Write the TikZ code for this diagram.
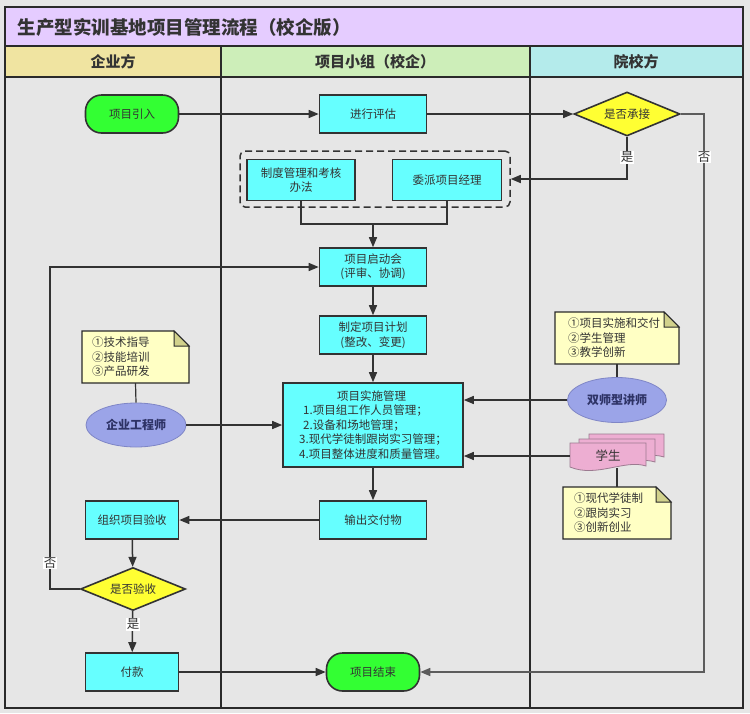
\documentclass[tikz,border=0pt]{standalone}
\usepackage{fontspec}
\setmainfont{Noto Sans CJK SC}
\usetikzlibrary{arrows.meta,shapes.geometric}
\definecolor{bgc}{HTML}{E6E6E6}
\definecolor{framec}{HTML}{2A2A2A}
\definecolor{titlec}{HTML}{E5CCFF}
\definecolor{hA}{HTML}{F0E4A1}
\definecolor{hB}{HTML}{CDEEB9}
\definecolor{hC}{HTML}{B4EBEB}
\definecolor{cyanc}{HTML}{66FFFF}
\definecolor{greenc}{HTML}{33FF33}
\definecolor{yellowc}{HTML}{FFFF33}
\definecolor{notec}{HTML}{FFFFC4}
\definecolor{foldc}{HTML}{D2D28C}
\definecolor{ellc}{HTML}{9BA4E8}
\definecolor{elldraw}{HTML}{7F86C6}
\definecolor{pinkc}{HTML}{EDAED2}
\definecolor{pinkd}{HTML}{9C7A90}
\definecolor{linec}{HTML}{333333}
\definecolor{txtc}{HTML}{333333}
\definecolor{actortxt}{HTML}{2E3366}
\newcommand\docsheet[4]{%
  \filldraw[docst] (#1,#2) -- (#3,#2) -- (#3,{#4-6}) .. controls ({#1+0.72*(#3-#1)},{#4-13}) and ({#1+0.35*(#3-#1)},{#4+6}) .. (#1,{#4-5}) -- cycle;}
\newcommand\mynote[5]{%
  \filldraw[notest] (#1,#2) -- ({#3-15},#2) -- (#3,{#2+15}) -- (#3,#4) -- (#1,#4) -- cycle;
  \filldraw[foldst] ({#3-15},#2) -- ({#3-15},{#2+15}) -- (#3,{#2+15}) -- cycle;
  \coordinate (#5-t) at ({(#1+#3)/2},#2);
  \coordinate (#5-b) at ({(#1+#3)/2},#4);}
\begin{document}
\begin{tikzpicture}[x=1pt,y=-1pt,
  every node/.style={text=txtc,font=\fontsize{11.5}{14.5}\selectfont},
  proc/.style={rectangle,draw=linec,line width=1.6pt,fill=cyanc,minimum width=107pt,minimum height=38pt,inner sep=2pt,align=center},
  term/.style={rectangle,rounded corners=16pt,draw=linec,line width=1.6pt,fill=greenc,minimum width=93pt,minimum height=38pt},
  decision/.style={diamond,draw=linec,line width=1.6pt,fill=yellowc,minimum width=106pt,minimum height=44pt,inner sep=0pt,aspect=2.4},
  actor/.style={ellipse,draw=elldraw,line width=0.8pt,fill=ellc,minimum width=100pt,minimum height=44pt,inner sep=0pt,font=\fontsize{12}{14}\selectfont\bfseries,text=actortxt},
  notest/.style={draw=framec,line width=1.3pt,fill=notec},
  foldst/.style={draw=framec,line width=1.0pt,fill=foldc},
  docst/.style={draw=pinkd,line width=0.8pt,fill=pinkc},
  arr/.style={draw=linec,line width=1.5pt,-{Triangle[length=10pt,width=8pt]}},
  conn/.style={draw=linec,line width=1.5pt},
  lbl/.style={fill=white,inner sep=1pt,font=\fontsize{12.5}{14}\selectfont},
  frameline/.style={draw=framec,line width=2.5pt},
  ntext/.style={align=left,anchor=north west,inner sep=0pt,font=\fontsize{11.5}{14.5}\selectfont}]
\useasboundingbox (0,0) rectangle (750,713);
\fill[bgc] (0,0) rectangle (750,713);
% title and headers
\fill[titlec] (5,7) rectangle (743,46);
\fill[hA] (5,46) rectangle (221,77);
\fill[hB] (221,46) rectangle (530,77);
\fill[hC] (530,46) rectangle (743,77);
\draw[frameline] (5,46) -- (743,46);
\draw[frameline] (5,77) -- (743,77);
\draw[frameline] (221,46) -- (221,708);
\draw[frameline] (530,46) -- (530,708);
\draw[frameline] (5,7) rectangle (743,708);
\node[anchor=west,font=\fontsize{18.5}{20}\selectfont\bfseries] (title) at (14,27) {生产型实训基地项目管理流程（校企版）};
\node[font=\fontsize{15}{17}\selectfont\bfseries] (hdA) at (113,62) {企业方};
\node[font=\fontsize{15}{17}\selectfont\bfseries] (hdB) at (375,62) {项目小组（校企）};
\node[font=\fontsize{15}{17}\selectfont\bfseries] (hdC) at (636,62) {院校方};
% group box
\node[draw=linec,dash pattern=on 7pt off 4pt,line width=1.5pt,rounded corners=5pt,minimum width=270pt,minimum height=56pt] (grp) at (375,179) {};
% nodes
\node[term] (start) at (132,114) {项目引入};
\node[proc] (eval) at (373,114) {进行评估};
\node[decision] (sc) at (627,114) {是否承接};
\node[proc,minimum width=108pt,minimum height=41pt] (zd) at (301,180) {制度管理和考核\\办法};
\node[proc,minimum width=109pt,minimum height=41pt] (wp) at (447,180) {委派项目经理};
\coordinate (m) at (373,224);
\node[proc] (qd) at (373,267) {项目启动会\\(评审、协调)};
\node[proc] (plan) at (373,335) {制定项目计划\\(整改、变更)};
\node[proc,minimum width=180pt,minimum height=84pt,align=left] (impl) at (373,425) {\hspace*{38pt}项目实施管理\\\hspace*{4pt}1.项目组工作人员管理；\\\hspace*{4pt}2.设备和场地管理；\\3.现代学徒制跟岗实习管理；\\4.项目整体进度和质量管理。};
\node[proc] (out) at (373,520) {输出交付物};
\node[proc,minimum width=93pt] (org) at (132,520) {组织项目验收};
\node[decision,minimum width=105pt,minimum height=43pt] (sy) at (133,589) {是否验收};
\node[proc,minimum width=93pt] (pay) at (132,672) {付款};
\node[term] (end) at (373,672) {项目结束};
% notes and actors
\mynote{82}{331}{189}{383}{n1}
\node[ntext] (n1t) at (92,337) {①技术指导\\②技能培训\\③产品研发};
\node[actor] (eng) at (136,425) {企业工程师};
\draw[conn,line width=1.2pt] (n1-b) -- (eng.north);
\mynote{555}{312}{679}{364}{n2}
\node[ntext] (n2t) at (568,318) {①项目实施和交付\\②学生管理\\③教学创新};
\node[actor,minimum width=99pt,minimum height=45pt] (dual) at (617,400) {双师型讲师};
\draw[conn,line width=1.2pt] (n2-b) -- (dual.north);
\docsheet{589}{434}{664}{463}
\docsheet{579}{439}{655}{468}
\docsheet{570}{443}{646}{472}
\node[inner sep=0pt,minimum width=76pt,minimum height=26pt,font=\fontsize{12.5}{14}\selectfont] (stu) at (608,456) {学生};
\mynote{563}{487}{671}{539}{n3}
\node[ntext] (n3t) at (574,493) {①现代学徒制\\②跟岗实习\\③创新创业};
\draw[conn,line width=1.2pt] (617,468) -- (n3-t);
% connectors
\draw[arr] (start) -- (eval);
\draw[arr] (eval) -- (sc);
\draw[arr] (sc.south) |- (grp.east);
\coordinate (r1) at (704,114);
\draw[arr,draw=linec!80] (sc.east) -- (r1) |- (end.east);
\draw[conn] (zd.south) |- (m) -| (wp.south);
\draw[arr] (m) -- (qd.north);
\draw[arr] (qd) -- (plan);
\draw[arr] (plan) -- (impl);
\draw[arr] (impl) -- (out);
\draw[arr] (out) -- (org);
\draw[arr] (org) -- (sy);
\draw[arr] (sy) -- (pay);
\coordinate (l1) at (50,589);
\draw[arr] (sy.west) -- (l1) |- (qd.west);
\draw[arr] (pay) -- (end);
\draw[arr] (eng.east) -- (impl.west |- eng.east);
\draw[arr] (dual.west) -- (impl.east |- dual.west);
\draw[arr] (stu.west) -- (impl.east |- stu.west);
% labels
\node[lbl] (y1) at (627,157) {是};
\node[lbl] (n1l) at (704,157) {否};
\node[lbl] (n2l) at (50,563) {否};
\node[lbl] (y2) at (133,624) {是};
\end{tikzpicture}
\end{document}
